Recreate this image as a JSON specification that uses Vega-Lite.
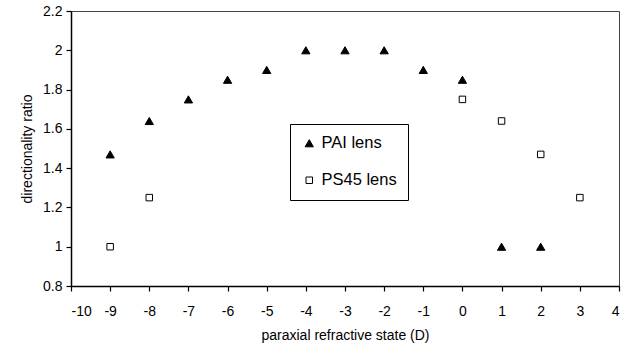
{
  "$schema": "https://vega.github.io/schema/vega-lite/v6.json",
  "width": 548,
  "height": 275,
  "autosize": {"type": "none"},
  "padding": {"left": 71, "top": 11, "right": 8, "bottom": 62},
  "background": "white",
  "config": {
    "font": "Liberation Sans",
    "view": {"stroke": "#444", "strokeWidth": 1},
    "axis": {"grid": false, "domainColor": "black", "tickColor": "black", "labelColor": "black", "titleColor": "black", "labelFontSize": 14, "titleFontSize": 14, "titleFontWeight": "normal", "labelFont": "Liberation Sans", "titleFont": "Liberation Sans", "tickSize": 5, "domainWidth": 1.5, "tickWidth": 1.2},
    "legend": {"strokeColor": "black", "fillColor": "white", "padding": 11, "labelFontSize": 16.5, "labelFont": "Liberation Sans", "labelColor": "black", "labelOffset": 4, "rowPadding": 20, "symbolStrokeWidth": 1}
  },
  "data": {
    "values": [
      {"D": -9, "ratio": 1.47, "lens": "PAI lens"},
      {"D": -8, "ratio": 1.64, "lens": "PAI lens"},
      {"D": -7, "ratio": 1.75, "lens": "PAI lens"},
      {"D": -6, "ratio": 1.85, "lens": "PAI lens"},
      {"D": -5, "ratio": 1.9, "lens": "PAI lens"},
      {"D": -4, "ratio": 2.0, "lens": "PAI lens"},
      {"D": -3, "ratio": 2.0, "lens": "PAI lens"},
      {"D": -2, "ratio": 2.0, "lens": "PAI lens"},
      {"D": -1, "ratio": 1.9, "lens": "PAI lens"},
      {"D": 0, "ratio": 1.85, "lens": "PAI lens"},
      {"D": 1, "ratio": 1.0, "lens": "PAI lens"},
      {"D": 2, "ratio": 1.0, "lens": "PAI lens"},
      {"D": -9, "ratio": 1.0, "lens": "PS45 lens"},
      {"D": -8, "ratio": 1.25, "lens": "PS45 lens"},
      {"D": 0, "ratio": 1.75, "lens": "PS45 lens"},
      {"D": 1, "ratio": 1.64, "lens": "PS45 lens"},
      {"D": 2, "ratio": 1.47, "lens": "PS45 lens"},
      {"D": 3, "ratio": 1.25, "lens": "PS45 lens"}
    ]
  },
  "mark": {"type": "point", "filled": true, "strokeWidth": 1, "opacity": 1},
  "encoding": {
    "x": {
      "field": "D", "type": "quantitative",
      "scale": {"domain": [-10, 4], "nice": false, "zero": false},
      "axis": {"values": [-10,-9,-8,-7,-6,-5,-4,-3,-2,-1,0,1,2,3,4], "labelExpr": "'' + datum.value", "title": "paraxial refractive state (D)", "labelPadding": 13, "titlePadding": 10}
    },
    "y": {
      "field": "ratio", "type": "quantitative",
      "scale": {"domain": [0.8, 2.2], "nice": false, "zero": false},
      "axis": {"values": [0.8, 1.0, 1.2, 1.4, 1.6, 1.8, 2.0, 2.2], "format": ".1~f", "title": "directionality ratio", "labelPadding": 4, "titlePadding": 8}
    },
    "shape": {
      "field": "lens", "type": "nominal",
      "scale": {"domain": ["PAI lens", "PS45 lens"], "range": ["triangle-up", "square"]},
      "legend": {"title": null, "orient": "none", "legendX": 219, "legendY": 113}
    },
    "fill": {
      "field": "lens", "type": "nominal",
      "scale": {"domain": ["PAI lens", "PS45 lens"], "range": ["black", "white"]},
      "legend": {"title": null, "orient": "none", "legendX": 219, "legendY": 113}
    },
    "stroke": {
      "field": "lens", "type": "nominal",
      "scale": {"domain": ["PAI lens", "PS45 lens"], "range": ["black", "black"]},
      "legend": {"title": null, "orient": "none", "legendX": 219, "legendY": 113}
    },
    "size": {
      "field": "lens", "type": "nominal",
      "scale": {"domain": ["PAI lens", "PS45 lens"], "range": [68, 42]},
      "legend": {"title": null, "orient": "none", "legendX": 219, "legendY": 113}
    }
  }
}
